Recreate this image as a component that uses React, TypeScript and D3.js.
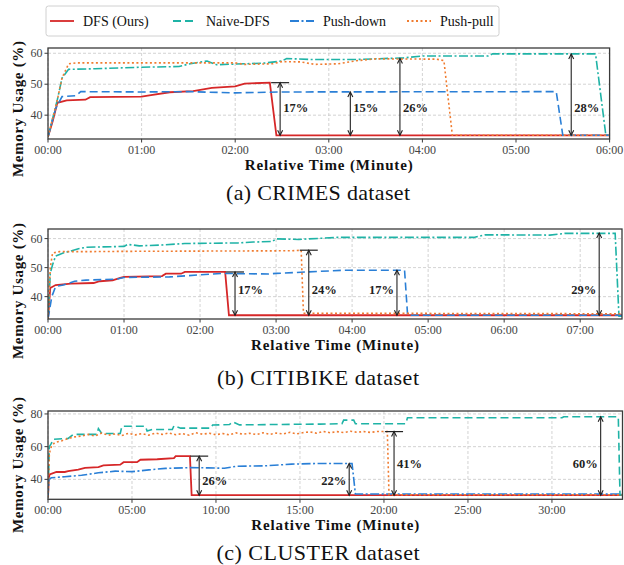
import React from 'react';
import * as d3 from 'd3';

type Pt = [number, number];

const seriesNames = ['DFS (Ours)', 'Naive-DFS', 'Push-down', 'Push-pull'];
const seriesColors = ['#d62728', '#1fb3a6', '#2a7fd6', '#f07c30'];

// (a) CRIMES  -- [minute, memory %]
const crimesDfs: Pt[] = [[0, 33], [0.05, 38], [0.1, 44], [0.2, 44.8], [0.4, 45], [0.45, 45.8], [1.0, 46], [1.1, 46.5], [1.3, 47.4], [1.55, 47.8], [1.75, 48.8], [2.0, 49.3], [2.1, 50.2], [2.37, 50.5], [2.44, 33.5], [6, 33.5]];
const crimesNaive: Pt[] = [[0, 33], [0.1, 45], [0.15, 52], [0.22, 54.8], [0.5, 55], [1.0, 55.5], [1.4, 55.7], [1.5, 56.5], [1.7, 57.5], [1.8, 56.3], [2.0, 56.5], [2.3, 56.8], [2.5, 57.5], [2.55, 58.3], [2.8, 58], [3.3, 58], [3.8, 58.5], [4.0, 59.1], [4.7, 59.1], [4.75, 59.8], [5.85, 59.8], [5.96, 33.5], [6, 33.5]];
const crimesPushDown: Pt[] = [[0, 33], [0.08, 42], [0.15, 46], [0.3, 46.3], [0.35, 47.6], [1.0, 47.5], [1.5, 47.6], [2.0, 47.2], [2.5, 47.5], [5.43, 47.6], [5.5, 33.5], [6, 33.5]];
const crimesPushPull: Pt[] = [[0, 33], [0.1, 45], [0.15, 52], [0.22, 56.6], [0.3, 56.9], [2.0, 56.9], [2.1, 56.4], [2.4, 56.6], [2.5, 57.3], [2.7, 57.2], [2.85, 56.4], [3.1, 56.6], [3.3, 57.6], [3.5, 58.2], [4.15, 58.1], [4.23, 57.6], [4.32, 33.5], [6, 33.5]];
const crimesTicks = [0, 1, 2, 3, 4, 5, 6];
const crimesGaps = [
  { t: 2.48, hi: 50.5, lo: 33.5, label: '17%', at: 42.3, side: 'right', bar: true },
  { t: 3.23, hi: 47.5, lo: 33.5, label: '15%', at: 42.3, side: 'right', bar: false },
  { t: 3.76, hi: 58.3, lo: 33.5, label: '26%', at: 42.3, side: 'right', bar: false },
  { t: 5.59, hi: 59.8, lo: 33.5, label: '28%', at: 42.3, side: 'right', bar: false },
];

// (b) CITIBIKE
const citiDfs: Pt[] = [[0, 32.3], [0.03, 43], [0.1, 44], [0.3, 44.5], [0.6, 44.7], [0.68, 45.3], [0.85, 45.6], [0.95, 46.5], [1.0, 46.8], [1.5, 47.1], [1.55, 47.9], [1.75, 47.9], [1.8, 48.5], [2.33, 48.5], [2.38, 33.6], [7.55, 33.6]];
const citiNaive: Pt[] = [[0, 32.3], [0.03, 48], [0.06, 51], [0.1, 54], [0.2, 55], [0.4, 56.5], [0.5, 57], [1.0, 57.3], [1.05, 58], [1.2, 57.5], [1.5, 57.8], [1.8, 58.3], [2.5, 58.5], [2.7, 58.8], [2.95, 59], [3.0, 59.9], [3.3, 59.7], [3.8, 60.4], [5.6, 60.4], [5.75, 61.3], [6.6, 61.2], [6.8, 61.8], [7.46, 61.8], [7.51, 33.3], [7.55, 33.3]];
const citiPushDown: Pt[] = [[0, 32.3], [0.05, 40], [0.1, 43.5], [0.2, 44], [0.35, 45.3], [0.5, 45.7], [0.9, 46], [1.0, 46.6], [1.6, 46.8], [2.0, 47.5], [2.3, 48], [2.9, 47.8], [3.0, 48], [3.4, 48.5], [3.9, 49.1], [4.69, 49.1], [4.73, 33.6], [7.55, 33.6]];
const citiPushPull: Pt[] = [[0, 32.3], [0.03, 50], [0.06, 55], [0.15, 55.5], [0.5, 55.5], [1.0, 55.6], [3.2, 55.8], [3.33, 56], [3.36, 34.3], [7.55, 34.1]];
const citiTicks = [0, 1, 2, 3, 4, 5, 6, 7];
const citiGaps = [
  { t: 2.46, hi: 48.5, lo: 33.6, label: '17%', at: 42.3, side: 'right', bar: true },
  { t: 3.43, hi: 56, lo: 33.6, label: '24%', at: 42.3, side: 'right', bar: true },
  { t: 4.59, hi: 49.1, lo: 33.6, label: '17%', at: 42.3, side: 'left', bar: false },
  { t: 7.25, hi: 61.9, lo: 33.6, label: '29%', at: 42.3, side: 'left', bar: false },
];

// (c) CLUSTER
const clusterDfs: Pt[] = [[0, 29], [0.05, 41], [0.1, 43], [0.5, 44.5], [1.0, 44.5], [1.2, 45], [1.8, 46], [2.2, 47], [3.0, 47.5], [3.3, 48.5], [4.3, 49], [4.5, 50.5], [5.3, 50.5], [5.5, 52], [6.5, 52.3], [7.5, 53], [7.6, 54.2], [8.45, 54.2], [8.55, 30.3], [34.2, 30.3]];
const clusterNaive: Pt[] = [[0, 29], [0.08, 60], [0.2, 62], [0.3, 64.5], [1.2, 65], [1.5, 67.5], [2.9, 67.5], [3.0, 71], [3.2, 68], [4.3, 68], [4.4, 72.5], [5.8, 72.5], [5.9, 69.5], [6.2, 70.5], [7.4, 70.5], [7.5, 72.8], [7.9, 71.3], [9.7, 71.3], [9.8, 73.2], [10.8, 73.5], [11.0, 75.2], [11.4, 73.3], [13, 73.5], [16.2, 73.8], [17.5, 74], [17.6, 76.2], [18.2, 76.2], [18.3, 74], [21.3, 74], [21.4, 77.7], [30.6, 77.7], [30.7, 78.3], [33.95, 78.3], [34.05, 30.5], [34.2, 30.5]];
const clusterPushDown: Pt[] = [[0, 29], [0.05, 40], [0.2, 41], [1.0, 41.6], [2.0, 42.5], [3.0, 44], [4.0, 45], [5.0, 44.7], [6.0, 45.8], [7.0, 46.7], [8.5, 47.2], [9.5, 47], [10.5, 46.8], [11.2, 48], [13, 48.3], [14.5, 49.3], [16, 49.7], [18.1, 49.7], [18.3, 31], [34.2, 31]];
const clusterPushPull: Pt[] = [[0, 29], [0.08, 56], [0.2, 60], [0.4, 62.5], [0.8, 63.5], [1.2, 65], [1.6, 66], [2.0, 66.5], [2.4, 67.5], [2.8, 66.5], [3.2, 68.3], [3.6, 67], [4.0, 67.8], [4.4, 66.8], [4.8, 68.2], [5.2, 67.2], [5.6, 68], [6.0, 67], [6.4, 68.3], [6.8, 67.5], [7.2, 68.4], [7.6, 67.3], [8.0, 68], [8.4, 67], [8.8, 68.5], [9.2, 67.6], [9.6, 68.2], [10.0, 67.3], [10.4, 68], [10.8, 67.2], [11.2, 68.4], [11.6, 67.6], [12.0, 68.2], [12.4, 67.4], [12.8, 68.5], [13.2, 67.5], [13.6, 68.3], [14.0, 67.7], [14.4, 68.8], [14.8, 67.8], [15.2, 68.6], [15.6, 69], [16.0, 68.2], [16.4, 69.3], [16.8, 68.5], [17.2, 69.2], [17.6, 68.6], [18.0, 69.4], [18.4, 68.8], [18.8, 69.2], [19.2, 68.7], [19.6, 69.3], [20.2, 69.2], [20.3, 30.6], [34.2, 30.6]];
const clusterTicks = [0, 5, 10, 15, 20, 25, 30];
const clusterGaps = [
  { t: 9.0, hi: 54.2, lo: 30.3, label: '26%', at: 38.7, side: 'right', bar: true },
  { t: 17.93, hi: 49.7, lo: 30.3, label: '22%', at: 38.7, side: 'left', bar: false },
  { t: 20.6, hi: 69.2, lo: 30.3, label: '41%', at: 49.2, side: 'right', bar: true },
  { t: 32.9, hi: 78.3, lo: 30.3, label: '60%', at: 49.2, side: 'left', bar: false },
];

const SOLID = 'none';
const DASHED = '8,4';
const DASHDOT = '9,2.5,2,2.5';
const DOTTED = '2,2.5';

const FONT = '"Liberation Serif", "Times New Roman", serif';

const panels = [
  {
    id: 'a', series: [crimesDfs, crimesNaive, crimesPushDown, crimesPushPull],
    dashes: [SOLID, DASHDOT, DASHED, DOTTED],
    xDomain: [0, 6], yDomain: [32.3, 61.7], ticks: crimesTicks, yTicks: [40, 50, 60], gaps: crimesGaps,
    left: 48, right: 609.6, top: 48, bottom: 139, yLabelMid: 109, captionY: 200, captionW: 184,
    caption: '(a) CRIMES dataset',
  },
  {
    id: 'b', series: [citiDfs, citiNaive, citiPushDown, citiPushPull],
    dashes: [SOLID, DASHDOT, DASHED, DOTTED],
    xDomain: [0, 7.55], yDomain: [32.3, 63.3], ticks: citiTicks, yTicks: [40, 50, 60], gaps: citiGaps,
    left: 48, right: 622, top: 229, bottom: 319, yLabelMid: 291, captionY: 385, captionW: 202,
    caption: '(b) CITIBIKE dataset',
  },
  {
    id: 'c', series: [clusterDfs, clusterNaive, clusterPushDown, clusterPushPull],
    dashes: [SOLID, DASHED, DASHDOT, DOTTED],
    xDomain: [0, 34.2], yDomain: [27.8, 81.8], ticks: clusterTicks, yTicks: [40, 60, 80], gaps: clusterGaps,
    left: 48, right: 622.5, top: 411, bottom: 499.3, yLabelMid: 465, captionY: 560, captionW: 203,
    caption: '(c) CLUSTER dataset',
  },
];

const fmtTick = (m: number) => `${d3.format('02d')(m)}:00`;

function Panel({ p }: { p: any }) {
  const x = d3.scaleLinear().domain(p.xDomain).range([p.left, p.right]);
  const y = d3.scaleLinear().domain(p.yDomain).range([p.bottom, p.top]);
  const line = d3.line<Pt>().x(d => x(d[0])).y(d => y(d[1]));
  const clip = `clip-${p.id}`;
  const midX = (p.left + p.right) / 2;

  return (
    <g>
      <defs>
        <clipPath id={clip}>
          <rect x={p.left} y={p.top} width={p.right - p.left} height={p.bottom - p.top} />
        </clipPath>
      </defs>
      {/* grid */}
      {p.ticks.map((t: number) => (
        <line key={'gx' + t} x1={x(t)} x2={x(t)} y1={p.top} y2={p.bottom} stroke="#c8c8c8" strokeWidth={0.8} strokeDasharray="3,2" />
      ))}
      {p.yTicks.map((t: number) => (
        <line key={'gy' + t} x1={p.left} x2={p.right} y1={y(t)} y2={y(t)} stroke="#c8c8c8" strokeWidth={0.8} strokeDasharray="3,2" />
      ))}
      {/* series */}
      <g clipPath={`url(#${clip})`}>
        {p.series.map((s: Pt[], i: number) => (
          <path key={i} d={line(s) || ''} fill="none" stroke={seriesColors[i]}
            strokeWidth={i === 0 ? 1.8 : 1.6} strokeDasharray={p.dashes[i]} />
        ))}
      </g>
      {/* gap arrows */}
      {p.gaps.map((g: any, i: number) => {
        const gx = x(g.t), y1 = y(g.hi), y2 = y(g.lo);
        return (
          <g key={'a' + i} stroke="#222" strokeWidth={1.1} fill="none">
            <line x1={gx} x2={gx} y1={y1} y2={y2} />
            <polyline points={`${gx - 2.5},${y1 + 5} ${gx},${y1} ${gx + 2.5},${y1 + 5}`} />
            <polyline points={`${gx - 2.5},${y2 - 5} ${gx},${y2} ${gx + 2.5},${y2 - 5}`} />
            {g.bar && <line x1={gx - 9} x2={gx + 9} y1={y1} y2={y1} strokeWidth={1.2} />}
            <text x={g.side === 'right' ? gx + 3 : gx - 3} y={y(g.at)} stroke="none" fill="#222"
              textAnchor={g.side === 'right' ? 'start' : 'end'} dominantBaseline="central"
              fontFamily={FONT} fontSize={12.5} fontWeight="bold">{g.label}</text>
          </g>
        );
      })}
      {/* frame */}
      <rect x={p.left} y={p.top} width={p.right - p.left} height={p.bottom - p.top} fill="none" stroke="#3a3a3a" strokeWidth={1.3} />
      {/* x axis */}
      {p.ticks.map((t: number) => (
        <g key={'tx' + t}>
          <line x1={x(t)} x2={x(t)} y1={p.bottom} y2={p.bottom + 3.5} stroke="#3a3a3a" strokeWidth={1} />
          <text x={x(t)} y={p.bottom + 15} textAnchor="middle" fontFamily={FONT} fontSize={12} fill="#444">{fmtTick(t)}</text>
        </g>
      ))}
      {p.yTicks.map((t: number) => (
        <g key={'ty' + t}>
          <line x1={p.left - 3.5} x2={p.left} y1={y(t)} y2={y(t)} stroke="#3a3a3a" strokeWidth={1} />
          <text x={p.left - 5.5} y={y(t)} textAnchor="end" dominantBaseline="central" fontFamily={FONT} fontSize={12} fill="#444">{t}</text>
        </g>
      ))}
      <text x={midX} y={p.bottom + 31} textAnchor="middle" fontFamily={FONT} fontSize={15} fontWeight="bold"
        textLength={168} lengthAdjust="spacing" fill="#111">Relative Time (Minute)</text>
      <text transform={`translate(23,${p.yLabelMid}) rotate(-90)`} textAnchor="middle" fontFamily={FONT}
        fontSize={15} fontWeight="bold" textLength={136} lengthAdjust="spacing" fill="#111">Memory Usage (%)</text>
      <text x={318} y={p.captionY} textAnchor="middle" fontFamily={FONT} fontSize={22}
        textLength={p.captionW} lengthAdjust="spacing" fill="#111">{p.caption}</text>
    </g>
  );
}

const legendX = [50, 173, 290, 407];
const legendDash = [SOLID, DASHED, DASHDOT, DOTTED];

export default function App() {
  return (
    <svg width={624} height={565} style={{ position: 'absolute', left: 0, top: 0, background: '#fff' }}>
      <rect x={46} y={6} width={453} height={30} rx={2.5} fill="#fff" stroke="#d0d0d0" strokeWidth={1} />
      {seriesNames.map((n, i) => (
        <g key={n}>
          <line x1={legendX[i]} x2={legendX[i] + 24} y1={21} y2={21} stroke={seriesColors[i]} strokeWidth={1.8} strokeDasharray={legendDash[i]} />
          <text x={legendX[i] + 33} y={21} dominantBaseline="central" fontFamily={FONT} fontSize={14} fill="#111">{n}</text>
        </g>
      ))}
      {panels.map(p => <Panel key={p.id} p={p} />)}
    </svg>
  );
}
